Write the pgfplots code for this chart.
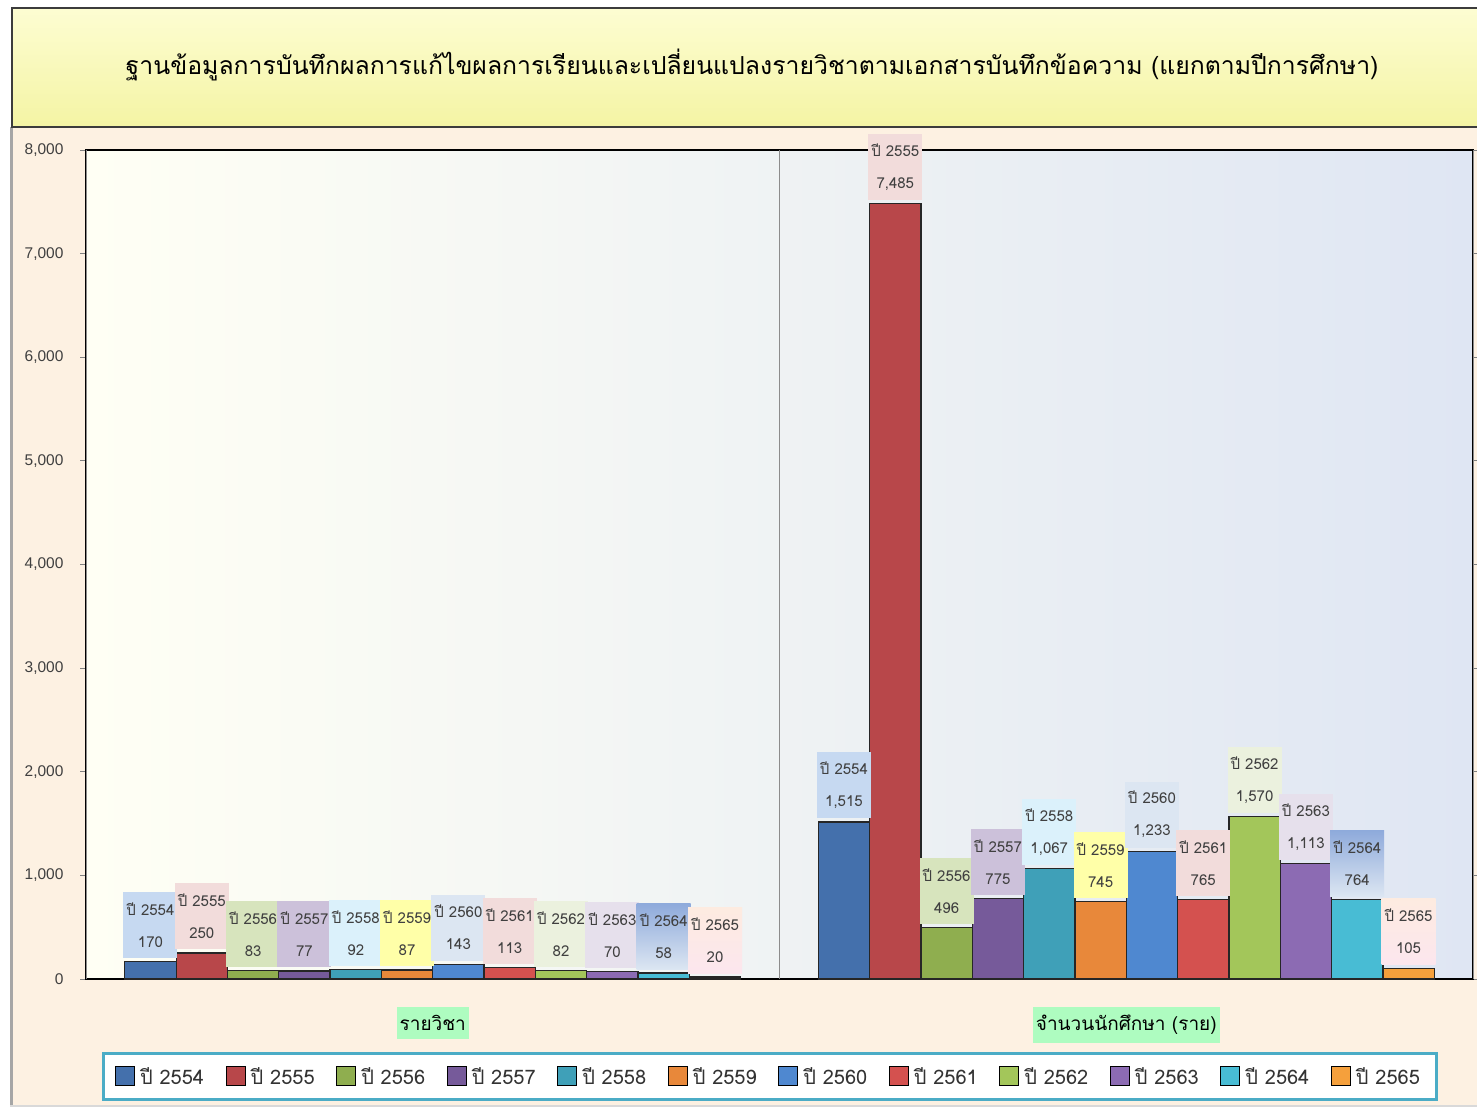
\documentclass[border=0pt]{standalone}
\usepackage{fontspec}
\setmainfont{Loma}[Script=Thai]
\newfontfamily\tickfont{Liberation Sans}
\newfontfamily\titlefont[Script=Thai]{Loma}
\usepackage{pgfplots}
\pgfplotsset{compat=1.18}
\definecolor{peach}{HTML}{FDF1E2}
\definecolor{titleA}{HTML}{FDFDD2}
\definecolor{titleB}{HTML}{F4F4A4}
\definecolor{titleborder}{HTML}{3C3C3C}
\definecolor{legendc}{HTML}{4BACC6}
\definecolor{catfill}{HTML}{AEFCC0}
\definecolor{bgA}{HTML}{FFFFF4}
\definecolor{bgB}{HTML}{DFE6F3}
\definecolor{c1}{HTML}{4470AC}
\definecolor{c2}{HTML}{B8474A}
\definecolor{c3}{HTML}{8FAE4F}
\definecolor{c4}{HTML}{765A9A}
\definecolor{c5}{HTML}{3FA0B8}
\definecolor{c6}{HTML}{E8883A}
\definecolor{c7}{HTML}{4F88D0}
\definecolor{c8}{HTML}{D4514F}
\definecolor{c9}{HTML}{A3C65A}
\definecolor{c10}{HTML}{8C6BB3}
\definecolor{c11}{HTML}{48BCD4}
\definecolor{c12}{HTML}{F5A03C}
\definecolor{l1}{HTML}{C6D9F1}
\definecolor{l2}{HTML}{F2DCDB}
\definecolor{l3}{HTML}{D7E4BD}
\definecolor{l4}{HTML}{CCC1DA}
\definecolor{l5}{HTML}{DBF1FB}
\definecolor{l6}{HTML}{FFFFA8}
\definecolor{l7}{HTML}{DCE6F2}
\definecolor{l8}{HTML}{F2DCDB}
\definecolor{l9}{HTML}{EBF1DE}
\definecolor{l10}{HTML}{E6E0EC}
\definecolor{l11a}{HTML}{8EAADB}
\definecolor{l11b}{HTML}{DCE6F2}
\definecolor{l12a}{HTML}{FDEBE0}
\definecolor{l12m}{HTML}{FAB07A}
\definecolor{l12b}{HTML}{FCE6EE}
\pgfplotsset{
  lbl/.style n args={2}{
    nodes near coords={ปี #1\\\pgfmathprintnumber{\pgfplotspointmeta}},
    every node near coord/.append style={#2}},
}
\begin{document}
\begin{tikzpicture}[x=1pt,y=1pt]
\useasboundingbox (0,0) rectangle (1477,1109);
\fill[white] (0,0) rectangle (1477,1109);
\fill[peach] (10,3) rectangle (1477,982);
\draw[black!35, line width=3.5pt] (11.5,3) -- (11.5,982);
\draw[black!15, line width=1.5pt] (10,3) -- (1477,3);
\shade[top color=titleA, bottom color=titleB] (12,982) rectangle (1480,1101);
\draw[line width=2pt, draw=titleborder] (12,982) rectangle (1480,1101);
\node[font=\titlefont\fontsize{24.8}{30}\selectfont, text=black] at (752,1044) {ฐานข้อมูลการบันทึกผลการแก้ไขผลการเรียนและเปลี่ยนแปลงรายวิชาตามเอกสารบันทึกข้อความ (แยกตามปีการศึกษา)};
\begin{axis}[
  at={(86pt,130pt)}, anchor=south west,
  width=1387pt, height=829pt, scale only axis,
  xmin=-0.5, xmax=1.5, ymin=0, ymax=8000,
  clip=false,
  axis background/.style={left color=bgA, right color=bgB},
  axis line style={black, line width=2.5pt},
  ybar=0pt, bar width=51.33pt,
  xtick={0,1},
  xticklabels={รายวิชา, จำนวนนักศึกษา (ราย)},
  xtick style={draw=none},
  extra x ticks={-0.5,0.5,1.5},
  extra x tick labels={},
  extra x tick style={grid=major, major grid style={black!45, line width=0.8pt}, tick style={draw=black!50, line width=1pt}, xticklabel style={fill=none, draw=none}},
  xticklabel style={fill=catfill, font=\fontsize{19}{24}\selectfont, text=black, inner xsep=3pt, inner ysep=8pt, yshift=-22pt},
  ytick={0,1000,...,8000},
  scaled y ticks=false,
  tick align=outside,
  major tick length=6pt,
  ytick style={draw=black!50, line width=1pt},
  yticklabel style={font=\tickfont\fontsize{15.5}{18}\selectfont, text=black!75, xshift=-13pt},
  /pgf/number format/.cd, 1000 sep={,}, assume math mode=true, /pgfplots/.cd,
  every node near coord/.append style={font=\fontsize{15}{32}\selectfont, text=black!75, align=center, text width=50pt, inner xsep=2pt, inner ysep=2pt, minimum height=66pt, anchor=south, yshift=3pt},
  legend style={at={(0.4932,-0.1176)}, anchor=center, legend columns=12, draw=legendc, line width=3pt, fill=white, font=\fontsize{20}{24}\selectfont, text=black!80, inner xsep=12pt, inner ysep=12pt, nodes={inner xsep=5pt}, /tikz/every even column/.append style={column sep=16.6pt}},
  legend image code/.code={\draw[#1, draw=black, line width=1pt] (0pt,-9pt) rectangle (19pt,10pt);},
]
\addplot[fill=c1, draw=black!85, line width=1.2pt, lbl={2554}{fill=l1}] coordinates {(0,170) (1,1515)};
\addplot[fill=c2, draw=black!85, line width=1.2pt, lbl={2555}{fill=l2}] coordinates {(0,250) (1,7485)};
\addplot[fill=c3, draw=black!85, line width=1.2pt, lbl={2556}{fill=l3}] coordinates {(0,83) (1,496)};
\addplot[fill=c4, draw=black!85, line width=1.2pt, lbl={2557}{fill=l4}] coordinates {(0,77) (1,775)};
\addplot[fill=c5, draw=black!85, line width=1.2pt, lbl={2558}{fill=l5}] coordinates {(0,92) (1,1067)};
\addplot[fill=c6, draw=black!85, line width=1.2pt, lbl={2559}{fill=l6}] coordinates {(0,87) (1,745)};
\addplot[fill=c7, draw=black!85, line width=1.2pt, lbl={2560}{fill=l7}] coordinates {(0,143) (1,1233)};
\addplot[fill=c8, draw=black!85, line width=1.2pt, lbl={2561}{fill=l8}] coordinates {(0,113) (1,765)};
\addplot[fill=c9, draw=black!85, line width=1.2pt, lbl={2562}{fill=l9}] coordinates {(0,82) (1,1570)};
\addplot[fill=c10, draw=black!85, line width=1.2pt, lbl={2563}{fill=l10}] coordinates {(0,70) (1,1113)};
\addplot[fill=c11, draw=black!85, line width=1.2pt, lbl={2564}{top color=l11a, bottom color=l11b}] coordinates {(0,58) (1,764)};
\addplot[fill=c12, draw=black!85, line width=1.2pt, lbl={2565}{top color=l12a, middle color=l12m, bottom color=l12b}] coordinates {(0,20) (1,105)};
\legend{ปี 2554, ปี 2555, ปี 2556, ปี 2557, ปี 2558, ปี 2559, ปี 2560, ปี 2561, ปี 2562, ปี 2563, ปี 2564, ปี 2565}
\end{axis}
\end{tikzpicture}
\end{document}
